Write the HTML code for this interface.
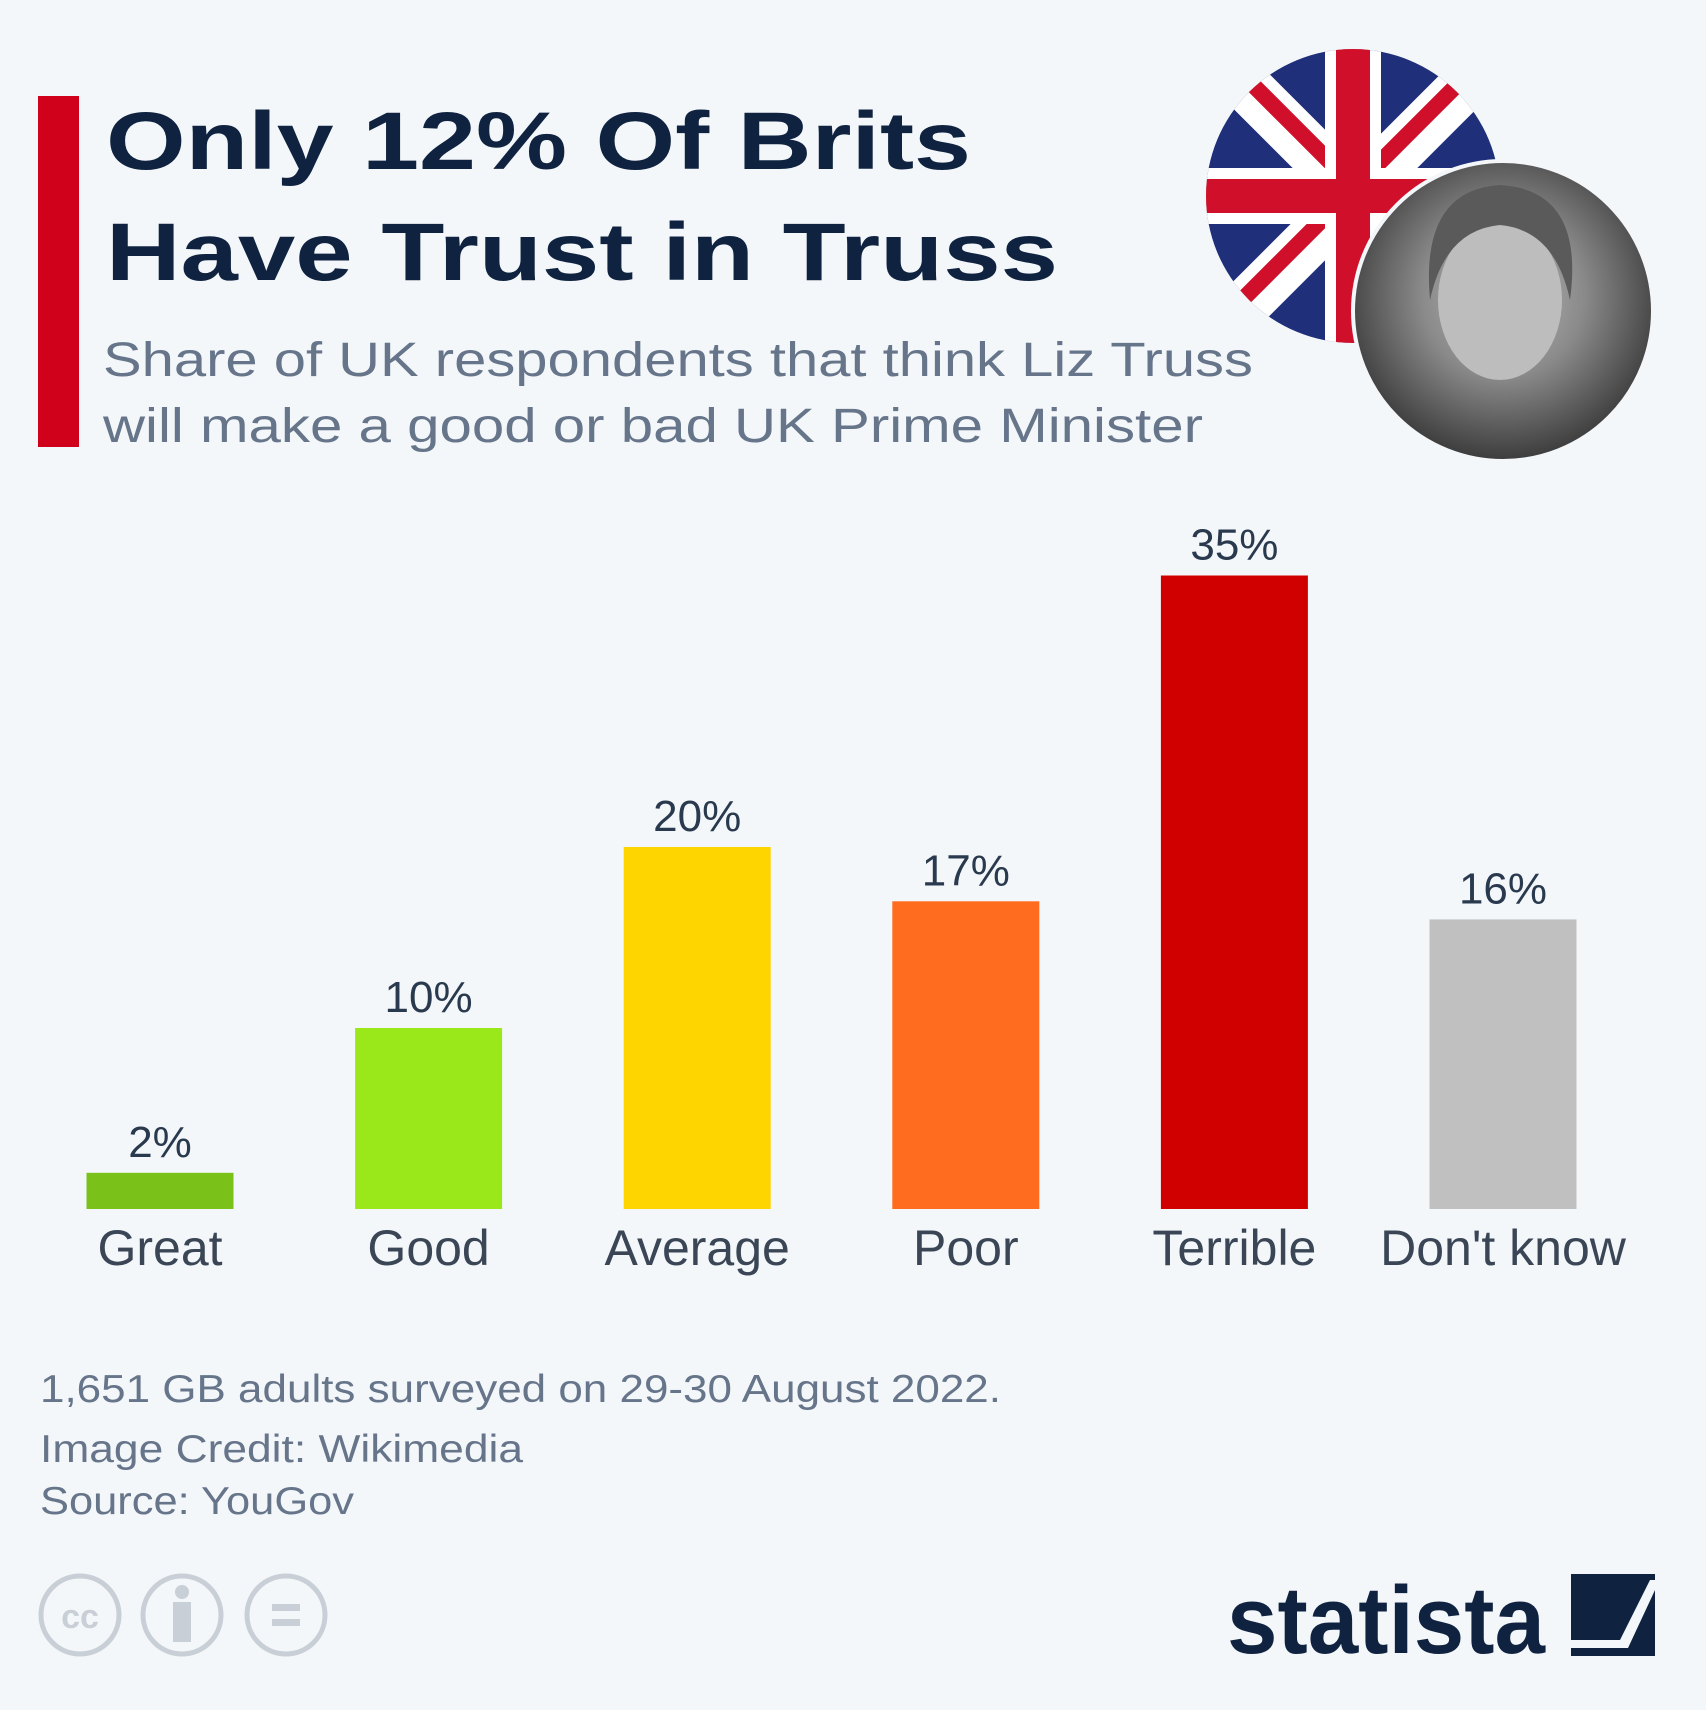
<!DOCTYPE html>
<html><head><meta charset="utf-8"><style>
html,body{margin:0;padding:0;background:#f4f7fa;}
svg{display:block;font-family:"Liberation Sans",sans-serif;}
</style></head><body>
<svg id="chart" width="1706" height="1710" viewBox="0 0 1706 1710">
<rect width="1706" height="1710" fill="#f4f7fa"/>
<rect x="38" y="96" width="41" height="351" fill="#d0021b"/>
<text x="106" y="169" font-size="82" font-weight="bold" fill="#0f2340" textLength="865" lengthAdjust="spacingAndGlyphs">Only 12% Of Brits</text>
<text x="106" y="280" font-size="82" font-weight="bold" fill="#0f2340" textLength="952" lengthAdjust="spacingAndGlyphs">Have Trust in Truss</text>
<text x="103" y="376" font-size="48" fill="#66758a" textLength="1150" lengthAdjust="spacingAndGlyphs">Share of UK respondents that think Liz Truss</text>
<text x="103" y="442" font-size="48" fill="#66758a" textLength="1100" lengthAdjust="spacingAndGlyphs">will make a good or bad UK Prime Minister</text>
<defs>
<clipPath id="flagclip"><circle cx="1353" cy="196" r="147"/></clipPath>
<radialGradient id="face" cx="0.5" cy="0.45" r="0.6"><stop offset="0" stop-color="#b8b8b8"/><stop offset="0.45" stop-color="#8a8a8a"/><stop offset="1" stop-color="#2e2e2e"/></radialGradient>
</defs>
<g clip-path="url(#flagclip)">
<rect x="1200" y="40" width="310" height="310" fill="#1f2f7a"/>
<path d="M1200 40 L1510 350 M1510 40 L1200 350" stroke="#fff" stroke-width="50"/>
<path d="M1208 40 L1518 350 M1502 40 L1192 350" stroke="#d0102b" stroke-width="16"/>
<rect x="1325" y="40" width="56" height="310" fill="#fff"/>
<rect x="1200" y="168" width="310" height="56" fill="#fff"/>
<rect x="1336" y="40" width="34" height="310" fill="#d0102b"/>
<rect x="1200" y="179" width="310" height="34" fill="#d0102b"/>
</g>
<g>
<circle cx="1503" cy="311" r="150" fill="url(#face)" stroke="#f4f7fa" stroke-width="4"/>
<ellipse cx="1500" cy="300" rx="62" ry="80" fill="#bdbdbd"/>
<path d="M1430 300 Q1420 190 1500 185 Q1585 190 1570 300 Q1555 230 1500 225 Q1445 230 1430 300Z" fill="#5a5a5a"/>
</g>
<g id="bars"></g>
<text x="40" y="1402" font-size="39" fill="#66758a" textLength="961" lengthAdjust="spacingAndGlyphs">1,651 GB adults surveyed on 29-30 August 2022.</text>
<text x="40" y="1462" font-size="39" fill="#66758a" textLength="483" lengthAdjust="spacingAndGlyphs">Image Credit: Wikimedia</text>
<text x="40" y="1514" font-size="39" fill="#66758a" textLength="314" lengthAdjust="spacingAndGlyphs">Source: YouGov</text>
<g fill="none" stroke="#c9cfd6" stroke-width="5">
<circle cx="80" cy="1615" r="39"/><circle cx="182" cy="1615" r="39"/><circle cx="286" cy="1615" r="39"/>
<text x="80" y="1628" font-size="34" fill="#c9cfd6" stroke="none" text-anchor="middle" font-weight="bold">cc</text>
<circle cx="182" cy="1592" r="7" fill="#c9cfd6" stroke="none"/>
<rect x="173" y="1602" width="18" height="40" fill="#c9cfd6" stroke="none"/>
<rect x="272" y="1604" width="28" height="7" fill="#c9cfd6" stroke="none"/>
<rect x="272" y="1619" width="28" height="7" fill="#c9cfd6" stroke="none"/>
</g>
<text x="1227" y="1653" font-size="96" font-weight="bold" fill="#0f2340" textLength="318" lengthAdjust="spacingAndGlyphs">statista</text>
<g>
<rect x="1571" y="1574" width="84" height="82" fill="#0f2340"/>
<path d="M1571 1640 L1620 1640 L1650 1580 L1655 1580 L1655 1590 L1628 1648 L1571 1648Z" fill="#f4f7fa"/>
</g>
</svg>
<script>
const categories = ["Great","Good","Average","Poor","Terrible","Don't know"];
const values = [2,10,20,17,35,16];
const valueLabels = ["2%","10%","20%","17%","35%","16%"];
const colors = ["#7ac21a","#9be81a","#ffd500","#ff6b1f","#d00000","#c0c0c0"];
const NS="http://www.w3.org/2000/svg";
const g=document.getElementById('bars');
const baseY=1209, pxPer=18.1, x0=160, step=268.6, bw=147;
const yScale=v=>baseY-v*pxPer;
const xScale=i=>x0+i*step;
categories.forEach((c,i)=>{
  const cx=xScale(i), top=yScale(values[i]);
  const r=document.createElementNS(NS,'rect');
  r.setAttribute('x',cx-bw/2);r.setAttribute('y',top);
  r.setAttribute('width',bw);r.setAttribute('height',baseY-top);
  r.setAttribute('fill',colors[i]);
  
  
  g.appendChild(r);
  const t=document.createElementNS(NS,'text');
  t.setAttribute('x',cx);t.setAttribute('y',top-16);
  t.setAttribute('text-anchor','middle');t.setAttribute('font-size','44');t.setAttribute('fill','#2a3a4e');
  t.textContent=valueLabels[i];
  
  
  g.appendChild(t);
  const l=document.createElementNS(NS,'text');
  l.setAttribute('x',cx);l.setAttribute('y',1265);
  l.setAttribute('text-anchor','middle');l.setAttribute('font-size','50');l.setAttribute('fill','#3a4656');
  l.textContent=c;
  
  
  g.appendChild(l);
});
</script>
</body></html>
